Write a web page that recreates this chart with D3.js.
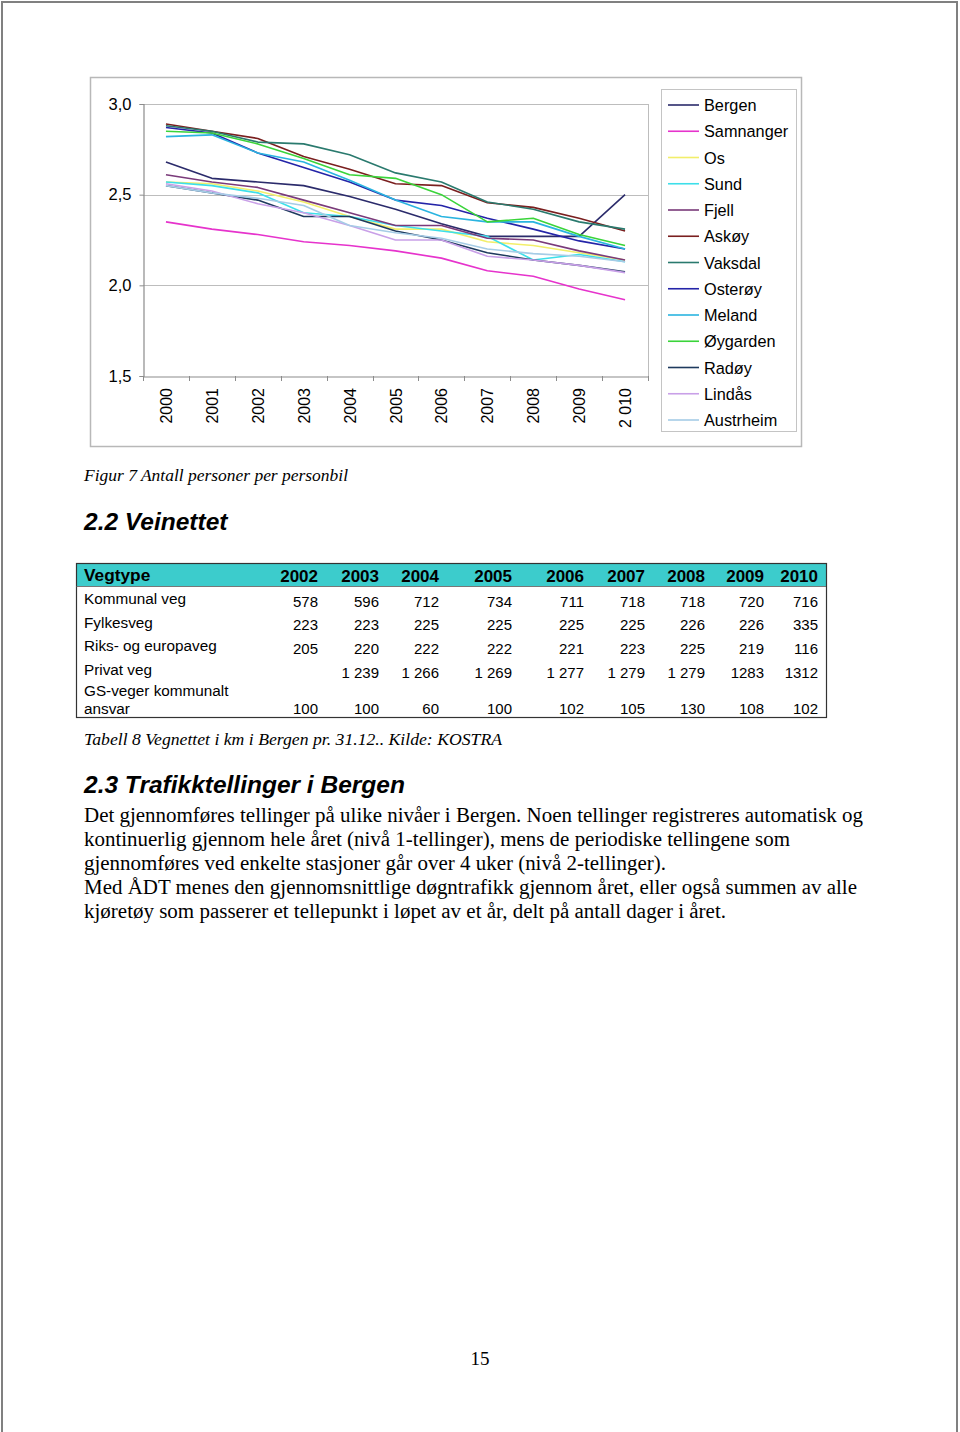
<!DOCTYPE html>
<html><head><meta charset="utf-8">
<script src="https://cdn.jsdelivr.net/npm/d3@7"></script>
<style>body{margin:0;background:#fff}svg{display:block}</style>
</head><body>
<script>
// ---------- Chart data ----------
const years = ["2000","2001","2002","2003","2004","2005","2006","2007","2008","2009","2 010"];
const yTicks = [1.5, 2.0, 2.5, 3.0];
const seriesNames = ["Bergen","Samnanger","Os","Sund","Fjell","Askøy","Vaksdal","Osterøy","Meland","Øygarden","Radøy","Lindås","Austrheim"];
const seriesColors = ["#2b2b6b","#e633cc","#f2ee6a","#3ddfea","#7a3a7a","#7a1f1f","#2a7a6e","#2424a8","#2ab4e0","#3ad43a","#1e3a5e","#c9a0e8","#a6cce6"];
const bergen    = [2.68,2.59,2.57,2.55,2.49,2.42,2.34,2.27,2.27,2.27,2.50];
const samnanger = [2.35,2.31,2.28,2.24,2.22,2.19,2.15,2.08,2.05,1.98,1.92];
const os        = [2.57,2.56,2.52,2.46,2.38,2.31,2.31,2.24,2.22,2.18,2.14];
const sund      = [2.57,2.55,2.51,2.40,2.38,2.33,2.30,2.27,2.14,2.17,2.13];
const fjell     = [2.61,2.57,2.54,2.47,2.40,2.33,2.33,2.26,2.25,2.19,2.14];
const askoy     = [2.89,2.85,2.81,2.71,2.64,2.56,2.55,2.455,2.43,2.37,2.30];
const vaksdal   = [2.88,2.85,2.79,2.78,2.72,2.62,2.57,2.46,2.42,2.35,2.31];
const osteroy   = [2.87,2.84,2.73,2.65,2.57,2.47,2.44,2.37,2.31,2.245,2.20];
const meland    = [2.82,2.83,2.73,2.68,2.58,2.47,2.38,2.35,2.35,2.27,2.20];
const oygarden  = [2.85,2.84,2.78,2.70,2.61,2.59,2.50,2.35,2.37,2.28,2.22];
const radoy     = [2.55,2.51,2.47,2.38,2.38,2.30,2.25,2.18,2.14,2.11,2.075];
const lindas    = [2.56,2.52,2.45,2.40,2.33,2.25,2.25,2.16,2.14,2.11,2.07];
const austrheim = [2.55,2.51,2.48,2.44,2.33,2.29,2.26,2.20,2.175,2.16,2.13];
const seriesValues = [bergen,samnanger,os,sund,fjell,askoy,vaksdal,osteroy,meland,oygarden,radoy,lindas,austrheim];

// ---------- Table data ----------
const tableYears = ["2002","2003","2004","2005","2006","2007","2008","2009","2010"];
const rowLabels = ["Kommunal veg","Fylkesveg","Riks- og europaveg","Privat veg","GS-veger kommunalt|ansvar"];
const kommunalVeg = ["578","596","712","734","711","718","718","720","716"];
const fylkesveg   = ["223","223","225","225","225","225","226","226","335"];
const riksveg     = ["205","220","222","222","221","223","225","219","116"];
const privatVeg   = ["","1 239","1 266","1 269","1 277","1 279","1 279","1283","1312"];
const gsVeger     = ["100","100","60","100","102","105","130","108","102"];
const tableRows = [kommunalVeg,fylkesveg,riksveg,privatVeg,gsVeger];

// ---------- Texts ----------
const figCaption = "Figur 7 Antall personer per personbil";
const heading22 = "2.2 Veinettet";
const tabCaption = "Tabell 8 Vegnettet i km i Bergen pr. 31.12.. Kilde: KOSTRA";
const heading23 = "2.3 Trafikktellinger i Bergen";
const paragraph = [
 "Det gjennomføres tellinger på ulike nivåer i Bergen. Noen tellinger registreres automatisk og",
 "kontinuerlig gjennom hele året (nivå 1-tellinger), mens de periodiske tellingene som",
 "gjennomføres ved enkelte stasjoner går over 4 uker (nivå 2-tellinger).",
 "Med ÅDT menes den gjennomsnittlige døgntrafikk gjennom året, eller også summen av alle",
 "kjøretøy som passerer et tellepunkt i løpet av et år, delt på antall dager i året."
];
const pageNumber = "15";

const W = 960, H = 1432;
const svg = d3.select("body").append("svg").attr("width", W).attr("height", H);
svg.append("rect").attr("width", W).attr("height", H).attr("fill", "#fff");

// page border
svg.append("path").attr("d", `M2,${H} V2 H957 V${H}`).attr("fill","none").attr("stroke","#808080").attr("stroke-width",2);

const sans = "Liberation Sans, Arial, sans-serif";
const serif = "Liberation Serif, Times New Roman, serif";

// fit a text element to a target width
function fitWidth(sel, target) {
  sel.each(function() {
    const w = this.getComputedTextLength();
    if (w > 0) d3.select(this).attr("textLength", target).attr("lengthAdjust", "spacingAndGlyphs");
  });
}

// ---------- Chart ----------
svg.append("rect").attr("x",90.5).attr("y",77.5).attr("width",711).attr("height",369)
  .attr("fill","#fff").attr("stroke","#b8b8b8").attr("stroke-width",1.5);

const plot = {l:143, r:648, t:104, b:376};
const x = d3.scaleBand().domain(years).range([plot.l, plot.r]);
const y = d3.scaleLinear().domain([1.5, 3.0]).range([plot.b, plot.t]);

const g = svg.append("g");
g.selectAll("line.grid").data(yTicks.filter(d => d > 1.5)).join("line")
  .attr("x1", plot.l).attr("x2", plot.r)
  .attr("y1", d => Math.round(y(d))+0.5).attr("y2", d => Math.round(y(d))+0.5)
  .attr("stroke","#bdbdbd").attr("stroke-width",1);
g.append("line").attr("x1",plot.r+0.5).attr("x2",plot.r+0.5).attr("y1",plot.t).attr("y2",plot.b)
  .attr("stroke","#bdbdbd");

const yAxis = d3.axisLeft(y).tickValues(yTicks).tickSize(4).tickPadding(8)
  .tickFormat(d => d3.format(".1f")(d).replace(".", ","));
const ya = g.append("g").attr("transform",`translate(${plot.l+0.5},0)`).call(yAxis);
ya.select(".domain").attr("stroke","#8c8c8c").attr("stroke-width",1.2);
ya.selectAll(".tick line").attr("stroke","#8c8c8c");
ya.selectAll("text").attr("font-family",sans).attr("font-size",16.5).attr("fill","#000");

const xa = g.append("g").attr("transform",`translate(0,${plot.b+0.5})`)
  .call(d3.axisBottom(x).tickSize(0).tickFormat(""));
xa.select(".domain").attr("stroke","#8c8c8c").attr("stroke-width",1.2);
const bounds = years.map(d => x(d)).concat([plot.r]);
g.selectAll("line.xt").data(bounds).join("line")
  .attr("x1", d => Math.round(d)+0.5).attr("x2", d => Math.round(d)+0.5)
  .attr("y1", plot.b).attr("y2", plot.b+5).attr("stroke","#8c8c8c");
g.selectAll("text.xl").data(years).join("text")
  .attr("transform", d => `translate(${x(d)+x.bandwidth()/2+6},${plot.b+12}) rotate(-90)`)
  .attr("text-anchor","end").attr("font-family",sans).attr("font-size",16).attr("fill","#000")
  .text(d => d);

const line = d3.line().x((d,i) => x(years[i]) + x.bandwidth()/2).y(d => y(d));
g.selectAll("path.series").data(seriesValues).join("path")
  .attr("d", d => line(d)).attr("fill","none")
  .attr("stroke", (d,i) => seriesColors[i]).attr("stroke-width",1.6)
  .attr("stroke-linejoin","round");

// legend
svg.append("rect").attr("x",661.5).attr("y",89.5).attr("width",135).attr("height",342)
  .attr("fill","#fff").attr("stroke","#c4c4c4");
const leg = svg.append("g").selectAll("g").data(seriesNames).join("g")
  .attr("transform",(d,i) => `translate(0,${105 + i*26.25})`);
leg.append("line").attr("x1",668).attr("x2",699).attr("y1",0).attr("y2",0)
  .attr("stroke",(d,i) => seriesColors[i]).attr("stroke-width",1.6);
leg.append("text").attr("x",704).attr("y",6).attr("font-family",sans).attr("font-size",16.3)
  .attr("fill","#000").text(d => d);

// ---------- Captions & headings ----------
svg.append("text").attr("x",84).attr("y",481).attr("font-family",serif).attr("font-style","italic")
  .attr("font-size",17).text(figCaption).call(fitWidth, 264);
svg.append("text").attr("x",84).attr("y",530).attr("font-family",sans).attr("font-style","italic")
  .attr("font-weight","bold").attr("font-size",24.5).text(heading22);

// ---------- Table ----------
const tL = 76, tR = 826, tT = 563, tHB = 586, tB = 717;
svg.append("rect").attr("x",tL).attr("y",tT).attr("width",tR-tL).attr("height",tHB-tT).attr("fill","#3ccccc");
svg.append("rect").attr("x",tL+0.5).attr("y",tT+0.5).attr("width",tR-tL).attr("height",tB-tT)
  .attr("fill","none").attr("stroke","#333").attr("stroke-width",1.2);
svg.append("line").attr("x1",tL).attr("x2",tR).attr("y1",tHB+0.5).attr("y2",tHB+0.5).attr("stroke","#555").attr("stroke-width",0.8);

const colRight = d3.scaleOrdinal().domain(tableYears).range([318,379,439,512,584,645,705,764,818]);
svg.append("text").attr("x",84).attr("y",581).attr("font-family",sans).attr("font-weight","bold")
  .attr("font-size",17.3).text("Vegtype");
svg.append("g").selectAll("text").data(tableYears).join("text")
  .attr("x", d => colRight(d)).attr("y",582).attr("text-anchor","end")
  .attr("font-family",sans).attr("font-weight","bold").attr("font-size",17).text(d => d);

const labelY = [604, 628, 651, 675, 696];
const numY = [607, 630, 654, 678, 714];
rowLabels.forEach((lab, r) => {
  const parts = lab.split("|");
  parts.forEach((p, k) => {
    svg.append("text").attr("x",84).attr("y", labelY[r] + k*18).attr("font-family",sans)
      .attr("font-size",15.3).text(p);
  });
  svg.append("g").selectAll("text").data(tableRows[r]).join("text")
    .attr("x",(d,i) => colRight(tableYears[i])).attr("y",numY[r]).attr("text-anchor","end")
    .attr("font-family",sans).attr("font-size",15).text(d => d);
});

svg.append("text").attr("x",84).attr("y",745).attr("font-family",serif).attr("font-style","italic")
  .attr("font-size",17).text(tabCaption).call(fitWidth, 418);
svg.append("text").attr("x",84).attr("y",793).attr("font-family",sans).attr("font-style","italic")
  .attr("font-weight","bold").attr("font-size",24.5).text(heading23);

const paraWidths = [779, 706, 582, 773, 642];
svg.append("g").selectAll("text").data(paragraph).join("text")
  .attr("x",84).attr("y",(d,i) => 822 + i*24).attr("font-family",serif).attr("font-size",20.5)
  .text(d => d)
  .each(function(d,i){ d3.select(this).attr("textLength", paraWidths[i]).attr("lengthAdjust","spacingAndGlyphs"); });

svg.append("text").attr("x",480).attr("y",1365).attr("text-anchor","middle")
  .attr("font-family",serif).attr("font-size",19).text(pageNumber);
</script>
</body></html>
